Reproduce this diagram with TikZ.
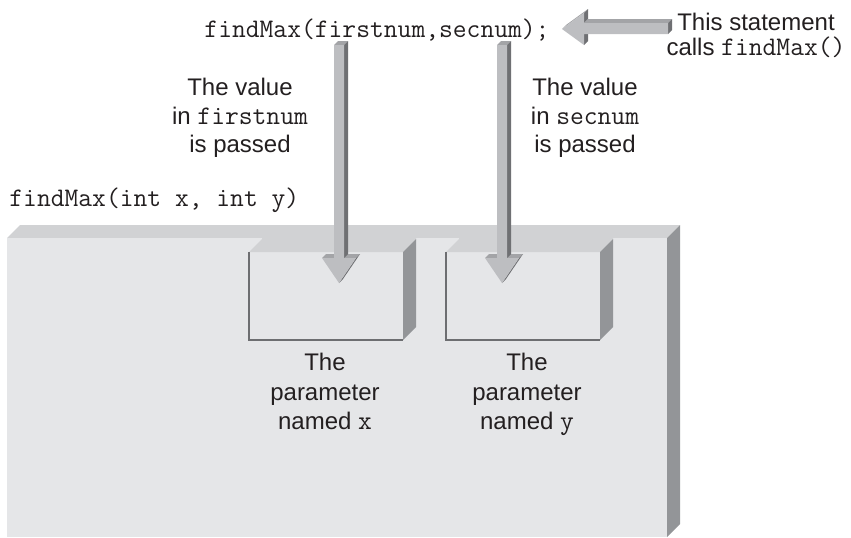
\documentclass[tikz,border=0pt]{standalone}
\usepackage{fontspec}
\setmainfont{Liberation Sans}
\definecolor{frontc}{HTML}{E5E6E8}
\definecolor{topc}{HTML}{D1D2D4}
\definecolor{sidec}{HTML}{939598}
\definecolor{rimc}{HTML}{6D6E71}
\definecolor{arrfront}{HTML}{BDBEC1}
\definecolor{arrtop}{HTML}{A3A4A7}
\definecolor{arrside}{HTML}{6F7073}
\definecolor{ink}{HTML}{231F20}
\newcommand\cdtxt[1]{{\ttfamily\fontsize{13.4}{14}\selectfont #1}}
\begin{document}
\begin{tikzpicture}[x=0.5pt,y=-0.5pt,
  txt/.style={font=\fontsize{12}{14.25}\selectfont,inner sep=0pt,align=center,text=ink},
  codetxt/.style={font=\ttfamily\fontsize{13.4}{14}\selectfont,inner sep=0pt,text=ink},
  rimline/.style={draw=rimc,line width=1.35pt}]
\useasboundingbox (0,0) rectangle (851,537);
% ---------- big block ----------
\fill[topc] (7,238) -- (20,225) -- (680,225) -- (667,238) -- cycle;
\fill[sidec] (667,238) -- (680,225) -- (680,524) -- (667,537) -- cycle;
\fill[frontc] (7,238) rectangle (667,537);
% ---------- parameter box x ----------
\fill[topc] (249,252) -- (262,239) -- (262,237) -- (416,237) -- (416,239) -- (403,252) -- cycle;
\fill[sidec] (403,252) -- (416,239) -- (416,327) -- (403,340) -- cycle;
\draw[rimline] (249,252) -- (249,340) -- (403,340);
% ---------- parameter box y ----------
\fill[topc] (446,252) -- (459,239) -- (459,237) -- (613,237) -- (613,239) -- (600,252) -- cycle;
\fill[sidec] (600,252) -- (613,239) -- (613,327) -- (600,340) -- cycle;
\draw[rimline] (446,252) -- (446,340) -- (600,340);
% ---------- down arrows ----------
\foreach \cx in {339,502}{
\begin{scope}[shift={(\cx,0)}]
  \fill[arrtop] (-5,45) -- (5,45) -- (9,41) -- (-1,41) -- cycle;
  \fill[arrtop] (-17,258) -- (17,258) -- (21,254) -- (-13,254) -- cycle;
  \fill[arrside] (5,45) -- (9,41) -- (9,254) -- (5,258) -- cycle;
  \fill[arrside] (17,258) -- (21,254) -- (4,279) -- (0,283) -- cycle;
  \fill[arrfront] (-5,45) -- (5,45) -- (5,258) -- (17,258) -- (0,283) -- (-17,258) -- (-5,258) -- cycle;
\end{scope}}
% ---------- left arrow ----------
\fill[arrtop] (562,29) -- (584,13) -- (588,9) -- (566,25) -- cycle;
\fill[arrside] (584,13) -- (588,9) -- (588,19) -- (584,23) -- cycle;
\fill[arrtop] (584,23) -- (668,23) -- (672,19) -- (588,19) -- cycle;
\fill[arrside] (668,23) -- (672,19) -- (672,30) -- (668,34) -- cycle;
\fill[arrside] (584,34) -- (588,30) -- (588,41) -- (584,45) -- cycle;
\fill[arrfront] (562,29) -- (584,13) -- (584,23) -- (668,23) -- (668,34) -- (584,34) -- (584,45) -- cycle;
% ---------- texts ----------
\node[codetxt,anchor=base] (call) at (377,37) {findMax(firstnum,secnum);};
\node[txt,anchor=north,font=\fontsize{12}{12.5}\selectfont] (stmt) at (756,13) {This statement\\calls \cdtxt{findMax()}};
\node[txt,anchor=north] (val1) at (240,78) {The value\\in \cdtxt{firstnum}\\is passed};
\node[txt,anchor=north] (val2) at (585,78) {The value\\in \cdtxt{secnum}\\is passed};
\node[codetxt,anchor=base west] (head) at (9,206) {findMax(int x, int y)};
\node[txt,anchor=north,font=\fontsize{12}{14.75}\selectfont] (par1) at (325,353) {The\\parameter\\named \cdtxt{x}};
\node[txt,anchor=north,font=\fontsize{12}{14.75}\selectfont] (par2) at (527,353) {The\\parameter\\named \cdtxt{y}};
\end{tikzpicture}
\end{document}
